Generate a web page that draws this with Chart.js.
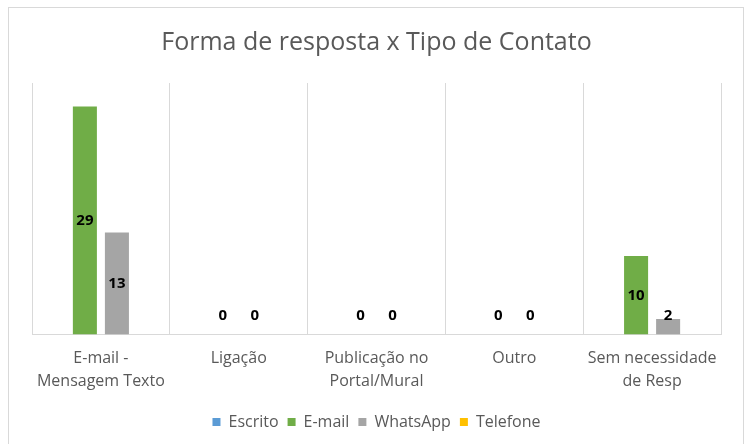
<!DOCTYPE html>
<html>
<head>
<meta charset="utf-8">
<script src="https://cdn.jsdelivr.net/npm/chart.js@4/dist/chart.umd.min.js"></script>
<style>
  html, body { margin: 0; padding: 0; background: #fff; }
  #wrap { width: 749px; height: 444px; position: relative; }
</style>
</head>
<body>
<div id="wrap"><canvas id="c" width="749" height="444"></canvas></div>
<script>
const categories = [["E-mail -", "Mensagem Texto"], "Ligação", ["Publicação no", "Portal/Mural"], "Outro", ["Sem necessidade", "de Resp"]];
const seriesNames = ["Escrito", "E-mail", "WhatsApp", "Telefone"];
const escrito = [null, null, null, null, null];
const email = [29, 0, 0, 0, 10];
const whatsapp = [13, 0, 0, 0, 2];
const telefone = [null, null, null, null, null];
const colors = ["#5B9BD5", "#70AD47", "#A5A5A5", "#FFC000"];

const FONT = "'Open Sans', Lato, sans-serif";

const frame = {
  id: 'frame',
  beforeDraw(chart) {
    const ctx = chart.ctx;
    ctx.save();
    ctx.fillStyle = '#fff';
    ctx.fillRect(0, 0, chart.width, chart.height);
    ctx.strokeStyle = '#d9d9d9';
    ctx.lineWidth = 1;
    ctx.strokeRect(8.5, 7.5, 735, 460);
    ctx.restore();
  }
};

const labels = {
  id: 'valueLabels',
  afterDatasetsDraw(chart) {
    const ctx = chart.ctx;
    ctx.save();
    ctx.font = "bold 15px " + FONT;
    ctx.fillStyle = '#000';
    ctx.textAlign = 'center';
    ctx.textBaseline = 'middle';
    chart.data.datasets.forEach((ds, i) => {
      const meta = chart.getDatasetMeta(i);
      meta.data.forEach((bar, j) => {
        const v = ds.data[j];
        if (v === null || v === undefined) return;
        const mid = (bar.y + bar.base) / 2;
        const y = Math.min(mid, bar.base - 19);
        ctx.fillText(String(v), bar.x, y);
      });
    });
    ctx.restore();
  }
};

new Chart(document.getElementById('c'), {
  type: 'bar',
  data: {
    labels: categories,
    datasets: [escrito, email, whatsapp, telefone].map((d, i) => ({
      label: seriesNames[i],
      data: d,
      backgroundColor: colors[i],
      borderWidth: 0,
      barPercentage: 0.75,
      categoryPercentage: 0.93
    }))
  },
  options: {
    responsive: false,
    animation: false,
    devicePixelRatio: 1,
    layout: { padding: { left: 32, right: 28, top: 0, bottom: 4 } },
    plugins: {
      title: {
        display: true,
        text: 'Forma de resposta x Tipo de Contato',
        color: '#595959',
        font: { family: FONT, size: 25, weight: 'normal' },
        padding: { top: 28, bottom: 25 }
      },
      legend: {
        position: 'bottom',
        labels: {
          color: '#595959',
          font: { family: FONT, size: 16 },
          boxWidth: 8,
          boxHeight: 8,
          padding: 9
        }
      },
      tooltip: { enabled: false }
    },
    scales: {
      x: {
        grid: { display: true, offset: true, color: '#d9d9d9', lineWidth: 1, drawTicks: false },
        border: { display: true, color: '#d9d9d9' },
        ticks: { color: '#595959', font: { family: FONT, size: 16, lineHeight: 1.45 }, padding: 12, maxRotation: 0, autoSkip: false }
      },
      y: {
        display: false,
        min: 0,
        max: 32
      }
    }
  },
  plugins: [frame, labels]
});
</script>
</body>
</html>
